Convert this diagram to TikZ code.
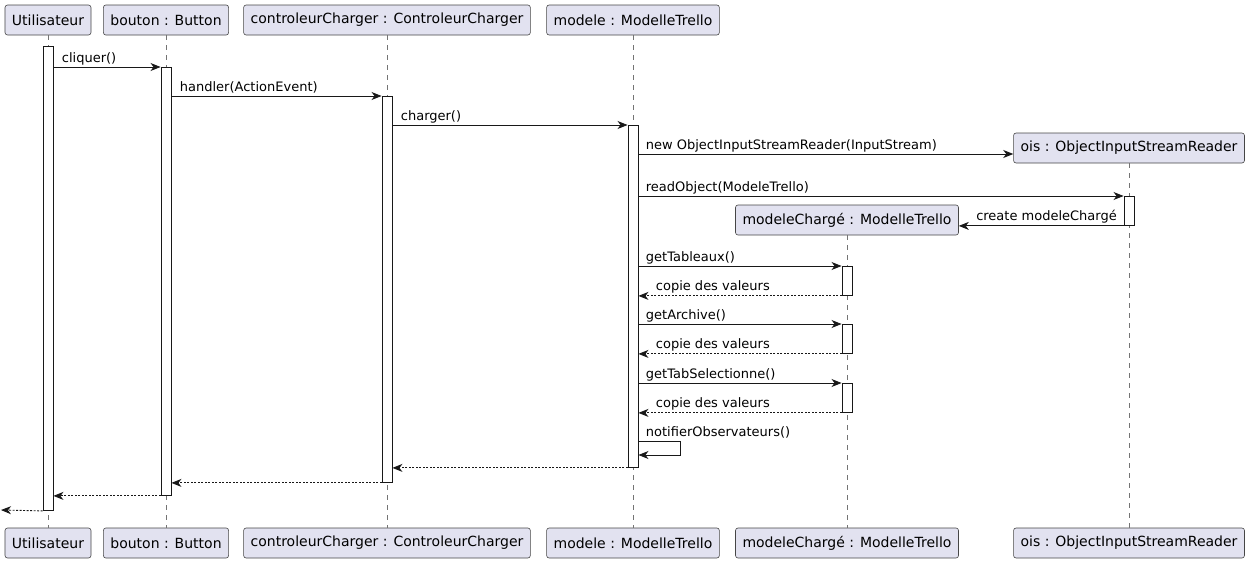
\documentclass[tikz,border=0pt]{standalone}
\usepackage{fontspec}
\setmainfont{DejaVu Sans}
\usetikzlibrary{arrows.meta}
\usetikzlibrary{calc}
\usetikzlibrary{positioning}
\definecolor{umlFill}{HTML}{E2E2F0}
\definecolor{umlLine}{HTML}{181818}

\begin{document}
\begin{tikzpicture}[x=1pt, y=-1pt,
        party/.style={draw=umlLine!80, fill=umlFill, rounded corners=2.5pt, minimum height=30pt, inner xsep=7pt, line width=0.6pt, font=\fontsize{14}{16}\selectfont},
        life/.style={draw=umlLine!60, dash pattern=on 5pt off 5pt, line width=0.6pt},
        bar/.style={draw=umlLine, fill=white, minimum width=10pt, inner sep=0pt, line width=0.9pt},
        msg/.style={draw=umlLine, line width=0.9pt, -{Stealth[length=10pt, width=8pt, inset=3pt]}},
        ret/.style={msg, dash pattern=on 2pt off 1.5pt},
        lbl/.style={anchor=base west, inner sep=0pt, font=\fontsize{13}{15}\selectfont}]
        \useasboundingbox (0,0) rectangle (1253,562);
        % participants, top row and the two created later
        \node [party] (uTop) at (48,20) {Utilisateur};
        \node [party] (bTop) at (166,20) {bouton : Button};
        \node [party] (cTop) at (387,20) {controleurCharger : ControleurCharger};
        \node [party] (mTop) at (633,20) {modele : ModelleTrello};
        \node [party] (oTop) at (1129,148) {ois : ObjectInputStreamReader};
        \node [party] (kTop) at (847,220) {modeleChargé : ModelleTrello};
        \foreach \n/\x/\t in {u/48/Utilisateur, b/166/bouton : Button, c/387/controleurCharger : ControleurCharger, m/633/modele : ModelleTrello, k/847/modeleChargé : ModelleTrello, o/1129/ois : ObjectInputStreamReader} {
            \node [party] (\n Bot) at (\x,543) {\t};
            \draw [life] (\n Top.south) -- (\n Bot.north);
        };
        % activations
        \node [bar, anchor=north, minimum height=464pt] (uAct) at (48,46) {};
        \node [bar, anchor=north, minimum height=428pt] (bAct) at (166,67) {};
        \node [bar, anchor=north, minimum height=386pt] (cAct) at (387,96) {};
        \node [bar, anchor=north, minimum height=342pt] (mAct) at (633,125) {};
        \node [bar, anchor=north, minimum height=29pt] (oAct) at (1129,196) {};
        \foreach \i/\y in {1/266, 2/324, 3/383} {\node [bar, anchor=north, minimum height=29pt] (kAct\i) at (847,\y) {};};
        \coordinate (newRow) at (0,154);
        \coordinate (nObs) at (680,441);
        \coordinate (nObsEnd) at (680,455);
        \coordinate (lost) at (1,510);
        % calls
        \draw [msg] (uAct.east |- bAct.north) -- node [lbl, pos=0, xshift=8pt, yshift=5pt] (lCliquer) {cliquer()} (bAct.north west);
        \draw [msg] (bAct.east |- cAct.north) -- node [lbl, pos=0, xshift=8pt, yshift=5pt] (lHandler) {handler(ActionEvent)} (cAct.north west);
        \draw [msg] (cAct.east |- mAct.north) -- node [lbl, pos=0, xshift=8pt, yshift=5pt] (lCharger) {charger()} (mAct.north west);
        \draw [msg] (mAct.east |- newRow) -- node [lbl, pos=0, xshift=7pt, yshift=5pt] (lNew) {new ObjectInputStreamReader(InputStream)} (oTop.west |- newRow);
        \draw [msg] (mAct.east |- oAct.north) -- node [lbl, pos=0, xshift=7pt, yshift=5pt] (lRead) {readObject(ModeleTrello)} (oAct.north west);
        \draw [msg] (oAct.south west) -- node [lbl, pos=1, xshift=17pt, yshift=5pt] (lCreate) {create modeleChargé} (kTop.east |- oAct.south);
        \foreach \i/\t in {1/getTableaux(), 2/getArchive(), 3/getTabSelectionne()} {
            \draw [msg] (mAct.east |- kAct\i.north) -- node [lbl, pos=0, xshift=7pt, yshift=5pt] (lGet\i) {\t} (kAct\i.north west);
            \draw [ret] (kAct\i.south west) -- node [lbl, pos=1, xshift=17pt, yshift=5pt] (lCopie\i) {copie des valeurs} (mAct.east |- kAct\i.south);
        };
        \draw [msg] (mAct.east |- nObs) -- node [lbl, pos=0, xshift=7pt, yshift=5pt] (lNotif) {notifierObservateurs()} (nObs) -- (nObsEnd) -- (mAct.east |- nObsEnd);
        % returns
        \draw [ret] (mAct.south west) -- (cAct.east |- mAct.south);
        \draw [ret] (cAct.south west) -- (bAct.east |- cAct.south);
        \draw [ret] (bAct.south west) -- (uAct.east |- bAct.south);
        \draw [ret] (uAct.south west) -- (lost);
    \end{tikzpicture}
\end{document}
